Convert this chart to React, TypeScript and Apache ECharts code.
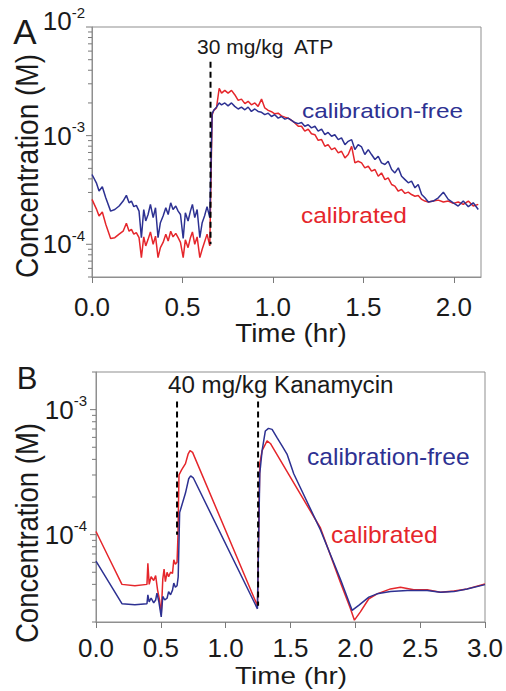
import React, { useEffect, useRef } from 'react';
import * as echarts from 'echarts';

// ---------- Panel A (30 mg/kg ATP) ----------
const timeA = [
  0.0, 0.024, 0.039, 0.057, 0.076, 0.103, 0.126, 0.15, 0.172, 0.19, 0.205, 0.218, 0.231, 0.245, 0.26, 0.273,
  0.286, 0.297, 0.31, 0.323, 0.338, 0.351, 0.365, 0.378, 0.393, 0.408, 0.421, 0.435, 0.448, 0.463, 0.476, 0.489,
  0.504, 0.516, 0.531, 0.544, 0.555, 0.568, 0.581, 0.596, 0.609, 0.622, 0.636, 0.651, 0.664,
  0.673, 0.688, 0.703, 0.716, 0.734, 0.752, 0.771, 0.789, 0.808, 0.826, 0.845, 0.863, 0.881, 0.9, 0.918, 0.937,
  0.955, 0.974, 0.992, 1.01, 1.029, 1.047, 1.066, 1.084, 1.103, 1.121, 1.14, 1.158, 1.176, 1.195, 1.213, 1.232,
  1.25, 1.269, 1.287, 1.305, 1.324, 1.342, 1.361, 1.379, 1.398, 1.416, 1.435, 1.453, 1.471, 1.49, 1.508, 1.527,
  1.545, 1.564, 1.582, 1.6, 1.619, 1.637, 1.656, 1.674, 1.693, 1.711, 1.73, 1.748, 1.766, 1.785, 1.803, 1.822,
  1.84, 1.859, 1.886, 1.914, 1.942, 1.969, 1.997, 2.024, 2.052, 2.08, 2.107, 2.135,
];
const calFreeA = [
  4.39e-4, 3.68e-4, 3.09e-4, 3.38e-4, 2.68e-4, 2.02e-4, 2.09e-4, 2.25e-4, 2.5e-4, 2.82e-4, 2.41e-4, 2.5e-4,
  2.22e-4, 2.28e-4, 2.02e-4, 1.15e-4, 2.09e-4, 1.64e-4, 1.88e-4, 2.33e-4, 1.76e-4, 2.17e-4, 1.15e-4, 1.58e-4,
  1.82e-4, 2.17e-4, 1.88e-4, 2.41e-4, 2.09e-4, 2.25e-4, 2.02e-4, 1.88e-4, 1.13e-4, 1.95e-4, 1.64e-4, 2.02e-4,
  2.33e-4, 1.76e-4, 2.09e-4, 1.15e-4, 1.58e-4, 1.82e-4, 2.22e-4, 1.76e-4, 1.6e-3,
  1.71e-3, 1.83e-3, 2.0e-3, 1.92e-3, 2.0e-3, 1.88e-3, 2.0e-3, 1.86e-3, 1.76e-3, 1.83e-3, 1.73e-3, 1.83e-3,
  1.67e-3, 1.76e-3, 1.67e-3, 1.64e-3, 1.56e-3, 1.61e-3, 1.5e-3, 1.56e-3, 1.45e-3, 1.5e-3, 1.42e-3, 1.45e-3,
  1.38e-3, 1.32e-3, 1.29e-3, 1.32e-3, 1.22e-3, 1.26e-3, 1.18e-3, 1.22e-3, 1.1e-3, 1.15e-3, 1.02e-3, 1.07e-3,
  9.87e-4, 1.02e-3, 9.19e-4, 9.53e-4, 8.26e-4, 8.87e-4, 9.19e-4, 7.44e-4, 8.26e-4, 7.87e-4, 6.7e-4, 7.44e-4,
  6.7e-4, 6.03e-4, 6.46e-4, 5.61e-4, 5.42e-4, 5.81e-4, 4.88e-4, 4.54e-4, 5.05e-4, 4.23e-4, 3.94e-4, 3.68e-4,
  3.81e-4, 3.31e-4, 3.55e-4, 2.87e-4, 2.68e-4, 2.45e-4, 2.5e-4, 2.68e-4, 3.02e-4, 2.59e-4, 2.41e-4, 2.25e-4,
  2.5e-4, 2.22e-4, 2.41e-4, 2.09e-4,
];
const calibratedA = [
  2.59e-4, 2.12e-4, 1.82e-4, 1.98e-4, 1.53e-4, 1.13e-4, 1.15e-4, 1.24e-4, 1.32e-4, 1.56e-4, 1.32e-4, 1.37e-4,
  1.24e-4, 1.28e-4, 1.15e-4, 7.55e-5, 1.17e-4, 9.66e-5, 1.11e-4, 1.3e-4, 1.0e-4, 1.19e-4, 7.55e-5, 9.31e-5,
  1.04e-4, 1.24e-4, 1.07e-4, 1.32e-4, 1.17e-4, 1.26e-4, 1.15e-4, 1.04e-4, 7.55e-5, 1.1e-4, 9.31e-5, 1.15e-4,
  1.3e-4, 1.0e-4, 1.17e-4, 7.55e-5, 9.0e-5, 1.05e-4, 1.24e-4, 9.66e-5, 1.55e-3,
  1.71e-3, 1.8e-3, 2.73e-3, 2.46e-3, 2.61e-3, 2.46e-3, 2.61e-3, 2.38e-3, 2.11e-3, 2.17e-3, 1.97e-3, 2.07e-3,
  1.92e-3, 2.0e-3, 1.86e-3, 2.17e-3, 1.8e-3, 1.71e-3, 1.66e-3, 1.59e-3, 1.61e-3, 1.52e-3, 1.48e-3, 1.45e-3,
  1.38e-3, 1.31e-3, 1.22e-3, 1.22e-3, 1.1e-3, 1.15e-3, 1.04e-3, 1.02e-3, 9.06e-4, 9.2e-4, 7.98e-4, 8.26e-4,
  7.44e-4, 7.71e-4, 6.93e-4, 7.18e-4, 6.24e-4, 6.7e-4, 7.98e-4, 5.61e-4, 5.81e-4, 5.61e-4, 5.05e-4, 5.23e-4,
  4.71e-4, 4.88e-4, 4.23e-4, 4.54e-4, 3.94e-4, 4.09e-4, 3.55e-4, 3.43e-4, 3.08e-4, 3.2e-4, 2.94e-4, 3.02e-4,
  2.87e-4, 2.77e-4, 2.81e-4, 2.59e-4, 2.5e-4, 2.45e-4, 2.5e-4, 2.55e-4, 2.45e-4, 2.5e-4, 2.38e-4, 2.45e-4,
  2.33e-4, 2.5e-4, 2.25e-4, 2.33e-4,
];
const doseTimeA = [0.655];
const doseSpanA = [4.8e-3, 1.0e-4];
const xTicksA = [0, 0.5, 1.0, 1.5, 2.0];
const yMajorA = [1e-4, 1e-3, 1e-2];
const yRangeA = [5e-5, 1e-2];
const xRangeA = [0, 2.15];

// ---------- Panel B (40 mg/kg Kanamycin) ----------
const timeBCal = [
  0.0, 0.1, 0.2, 0.3, 0.393, 0.4, 0.41, 0.425, 0.445, 0.46, 0.475, 0.49, 0.503, 0.515, 0.525, 0.535, 0.548,
  0.56, 0.575, 0.59, 0.6, 0.612, 0.625, 0.632, 0.64, 0.66, 0.69, 0.71, 0.725, 0.745, 1.245, 1.263, 1.281,
  1.319, 1.345, 1.371, 1.731, 1.885, 1.962, 1.993, 2.039, 2.104, 2.168, 2.271, 2.348, 2.451, 2.554, 2.657,
  2.76, 2.862, 3.0,
];
const calibratedB = [
  1.06e-4, 6.5e-5, 4.0e-5, 3.9e-5, 4.0e-5, 5.9e-5, 4.0e-5, 4.6e-5, 4.3e-5, 4.7e-5, 3.6e-5, 3.0e-5, 2.3e-5,
  4.4e-5, 5.3e-5, 4.2e-5, 5.0e-5, 4.6e-5, 5.0e-5, 4.9e-5, 6.3e-5, 5.8e-5, 6.0e-5, 9.7e-5, 3.0e-4, 3.3e-4,
  3.7e-4, 4.4e-4, 4.7e-4, 4.55e-4, 2.7e-5, 3.68e-4, 4.69e-4, 5.62e-4, 5.36e-4, 4.83e-4, 1.13e-4, 4.15e-5,
  2.56e-5, 2.07e-5, 2.41e-5, 3.07e-5, 3.36e-5, 3.68e-5, 3.79e-5, 3.63e-5, 3.63e-5, 3.46e-5, 3.54e-5, 3.68e-5,
  4.03e-5,
];
const timeBFree = [
  0.0, 0.1, 0.2, 0.3, 0.393, 0.4, 0.41, 0.425, 0.445, 0.46, 0.47, 0.485, 0.503, 0.515, 0.53, 0.548, 0.56,
  0.575, 0.59, 0.6, 0.612, 0.625, 0.634, 0.645, 0.69, 0.715, 0.73, 0.75, 1.245, 1.263, 1.281, 1.306, 1.33,
  1.358, 1.396, 1.435, 1.473, 1.525, 1.731, 1.885, 1.975, 2.026, 2.104, 2.168, 2.271, 2.4, 2.554, 2.657, 2.76,
  2.862, 3.0,
];
const calFreeB = [
  6.15e-5, 4.15e-5, 2.8e-5, 2.75e-5, 2.8e-5, 3.3e-5, 2.9e-5, 3.1e-5, 2.85e-5, 3.0e-5, 3.4e-5, 2.9e-5, 2.2e-5,
  3.2e-5, 3.0e-5, 3.1e-5, 3.5e-5, 3.3e-5, 3.6e-5, 4.1e-5, 3.8e-5, 3.9e-5, 4.6e-5, 1.5e-4, 2.15e-4, 2.8e-4,
  2.95e-4, 2.85e-4, 2.55e-5, 3.07e-4, 4.69e-4, 6.75e-4, 7.08e-4, 6.95e-4, 5.97e-4, 5.13e-4, 4.41e-4, 3.07e-4,
  1.09e-4, 4.4e-5, 2.48e-5, 2.72e-5, 3.16e-5, 3.36e-5, 3.51e-5, 3.57e-5, 3.57e-5, 3.46e-5, 3.5e-5, 3.68e-5,
  3.98e-5,
];
const doseTimesB = [0.625, 1.25];
const doseSpansB = [
  [1.16e-3, 1.0e-4],
  [1.16e-3, 2.7e-5],
];
const xTicksB = [0, 0.5, 1.0, 1.5, 2.0, 2.5, 3.0];
const yMajorB = [1e-4, 1e-3];
const yRangeB = [2e-5, 2e-3];
const xRangeB = [0, 3];

// ---------- styling ----------
const RED = '#e5262b';
const BLUE = '#2d3192';
const AXIS = '#8f8f8f';
const TICK = '#7a7a7a';
const TEXT = '#1a1a1a';
const FONT = '"Liberation Sans", Arial, Helvetica, sans-serif';

const lg = (v: number) => Math.log10(v);
const pts = (t: number[], c: number[]) => t.map((x, i) => [x, lg(c[i])]);
const minorTicks = (lo: number, hi: number) => {
  const out: number[] = [];
  for (let e = Math.floor(lg(lo)); e <= Math.ceil(lg(hi)); e++) {
    for (let k = 2; k <= 9; k++) {
      const v = k * Math.pow(10, e);
      if (v >= lo * 0.999 && v <= hi * 1.001) out.push(lg(v));
    }
  }
  return out;
};

function xAxisOf(grid: number, range: number[], ticks: number[], margin: number) {
  return {
    gridIndex: grid,
    type: 'value',
    min: range[0],
    max: range[1],
    axisLine: { show: true, onZero: false, lineStyle: { color: AXIS, width: 1 } },
    axisTick: { show: true, length: 6, customValues: ticks, lineStyle: { color: TICK, width: 1 } },
    axisLabel: {
      customValues: ticks,
      formatter: (v: number) => v.toFixed(1),
      fontSize: 26,
      fontFamily: FONT,
      color: TEXT,
      margin,
    },
    splitLine: { show: false },
  };
}

function yAxisOf(grid: number, range: number[], majors: number[], margin: number, liftTop: boolean) {
  const topExp = Math.round(lg(range[1]));
  return {
    gridIndex: grid,
    type: 'value',
    position: 'left',
    min: lg(range[0]),
    max: lg(range[1]),
    axisLine: { show: true, onZero: false, lineStyle: { color: AXIS, width: 1 } },
    axisTick: { show: false },
    axisLabel: {
      customValues: majors.map(lg),
      fontSize: 26,
      fontFamily: FONT,
      color: TEXT,
      margin,
      formatter: (v: number) => {
        const e = Math.round(v);
        if (liftTop && e === topExp) return `{t|10}{ts|${e}}`;
        return `10{s|${e}}`;
      },
      rich: {
        s: { fontSize: 15, fontFamily: FONT, color: TEXT, padding: [0, 0, 18, 0] },
        t: { fontSize: 26, fontFamily: FONT, color: TEXT, padding: [0, 0, 12, 0] },
        ts: { fontSize: 15, fontFamily: FONT, color: TEXT, padding: [0, 0, 30, 0] },
      },
    },
    splitLine: { show: false },
  };
}

// tick marks along the left edge of a log axis, placed through the axis scale
function tickSeries(x: number, y: number, xMin: number, values: number[], len: number) {
  return {
    type: 'custom',
    xAxisIndex: x,
    yAxisIndex: y,
    silent: true,
    clip: false,
    z: 6,
    data: values.map((v) => [xMin, v]),
    encode: { x: 0, y: 1 },
    renderItem: (_p: any, api: any) => {
      const p = api.coord([api.value(0), api.value(1)]);
      return {
        type: 'line',
        shape: { x1: p[0] - len, y1: p[1], x2: p[0], y2: p[1] },
        style: { stroke: TICK, lineWidth: 1 },
      };
    },
  };
}

function lineSeries(x: number, y: number, data: number[][], color: string, z: number) {
  return {
    type: 'line',
    xAxisIndex: x,
    yAxisIndex: y,
    data,
    symbol: 'none',
    silent: true,
    z,
    lineStyle: { color, width: 1.5 },
  };
}

function doseSeries(x: number, y: number, t: number, span: number[]) {
  return {
    type: 'line',
    xAxisIndex: x,
    yAxisIndex: y,
    data: [
      [t, lg(span[0])],
      [t, lg(span[1])],
    ],
    symbol: 'none',
    silent: true,
    z: 5,
    lineStyle: { color: '#000', width: 2, type: [6, 4] },
  };
}

function txt(text: string, x: number, y: number, size: number, color: string, align: string, sx = 1, extra: any = {}) {
  return {
    type: 'text',
    x,
    y,
    scaleX: sx,
    silent: true,
    z: 10,
    style: { text, fontSize: size, fontFamily: FONT, fill: color, align, verticalAlign: 'middle' },
    ...extra,
  };
}

const option: any = {
  animation: false,
  backgroundColor: '#ffffff',
  grid: [
    { left: 92, top: 27, width: 389, height: 250, show: true, borderColor: AXIS, borderWidth: 1, containLabel: false, outerBoundsMode: 'none' },
    { left: 96, top: 372, width: 389, height: 250, show: true, borderColor: AXIS, borderWidth: 1, containLabel: false, outerBoundsMode: 'none' },
  ],
  xAxis: [xAxisOf(0, xRangeA, xTicksA, 17), xAxisOf(1, xRangeB, xTicksB, 13)],
  yAxis: [yAxisOf(0, yRangeA, yMajorA, 7, true), yAxisOf(1, yRangeB, yMajorB, 9, false)],
  series: [
    lineSeries(0, 0, pts(timeA, calibratedA), RED, 2),
    lineSeries(0, 0, pts(timeA, calFreeA), BLUE, 3),
    doseSeries(0, 0, doseTimeA[0], doseSpanA),
    tickSeries(0, 0, xRangeA[0], minorTicks(yRangeA[0], yRangeA[1]), 4),
    tickSeries(0, 0, xRangeA[0], yMajorA.map(lg), 6),
    lineSeries(1, 1, pts(timeBCal, calibratedB), RED, 2),
    lineSeries(1, 1, pts(timeBFree, calFreeB), BLUE, 3),
    doseSeries(1, 1, doseTimesB[0], doseSpansB[0]),
    doseSeries(1, 1, doseTimesB[1], doseSpansB[1]),
    tickSeries(1, 1, xRangeB[0], minorTicks(yRangeB[0], yRangeB[1]), 4),
    tickSeries(1, 1, xRangeB[0], yMajorB.map(lg), 6),
  ],
  graphic: [
    txt('A', 25, 31, 35, TEXT, 'center'),
    txt('B', 27, 378, 31, TEXT, 'center'),
    txt('30 mg/kg  ATP', 197, 46, 21, TEXT, 'left'),
    txt('40 mg/kg Kanamycin', 168, 385, 23, TEXT, 'left', 1.05),
    txt('calibration-free', 302, 111, 21, BLUE, 'left', 1.16),
    txt('calibrated', 301, 215, 22, RED, 'left', 1.11),
    txt('calibration-free', 307, 457, 23, BLUE, 'left', 1.07),
    txt('calibrated', 331, 535, 23, RED, 'left', 1.07),
    txt('Time (hr)', 291, 333, 25, TEXT, 'center', 1.11),
    txt('Time (hr)', 291, 676, 24, TEXT, 'center', 1.16),
    txt('Concentration (M)', 27, 166, 28, TEXT, 'center', 1, { rotation: Math.PI / 2, scaleY: 1.15 }),
    txt('Concentration (M)', 27, 533, 27.5, TEXT, 'center', 1, { rotation: Math.PI / 2, scaleY: 1.15 }),
  ],
};

export default function App() {
  const ref = useRef<HTMLDivElement>(null);
  useEffect(() => {
    if (!ref.current) return;
    const chart = echarts.init(ref.current, null, { renderer: 'svg' });
    chart.setOption(option);
    return () => chart.dispose();
  }, []);
  return <div ref={ref} style={{ position: 'absolute', left: 0, top: 0, width: 506, height: 691 }} />;
}
